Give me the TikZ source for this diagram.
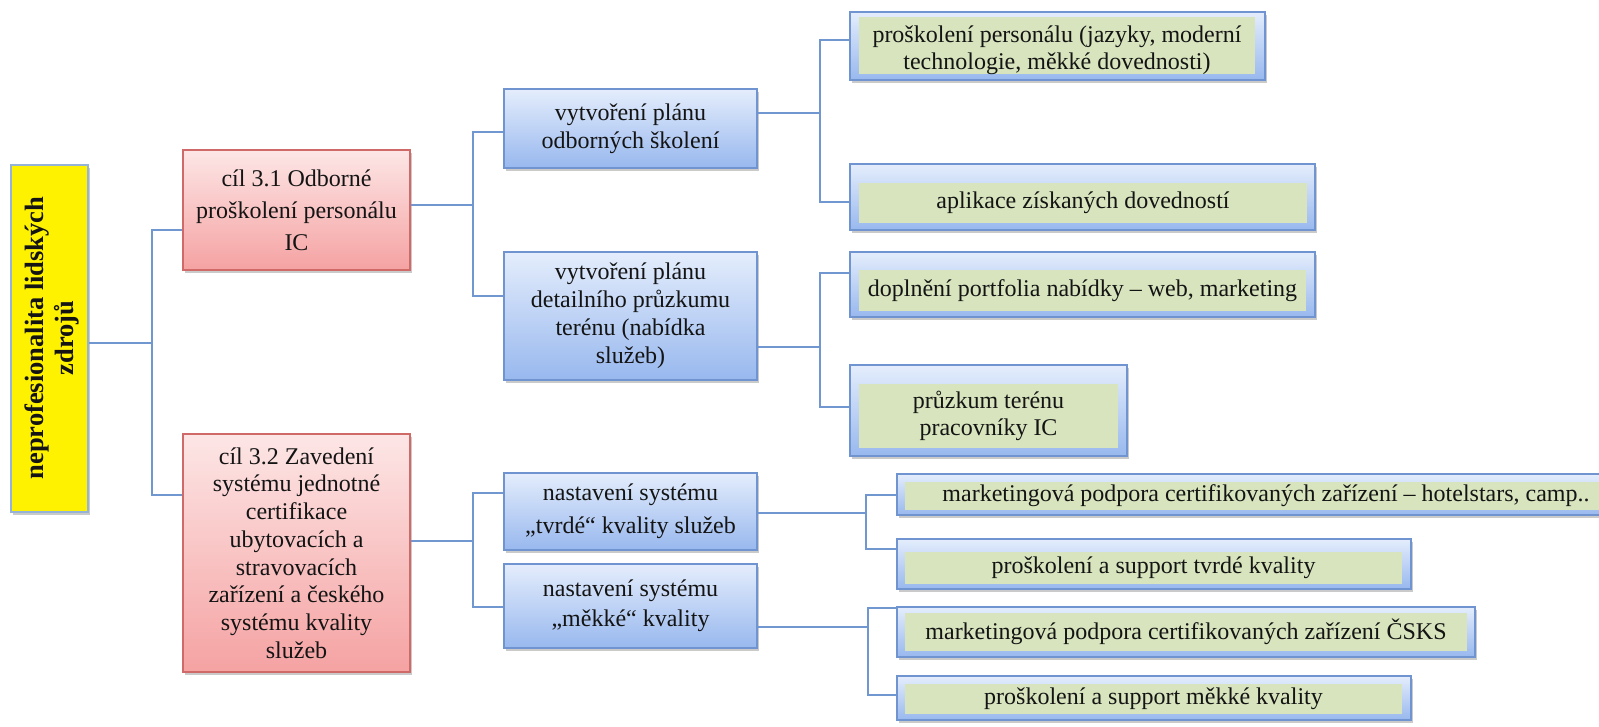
\documentclass[tikz,border=0pt]{standalone}
\usepackage{fontspec}
\setmainfont{Liberation Serif}
\usetikzlibrary{shadows}
\definecolor{linec}{HTML}{7097D0}
\definecolor{redT}{HTML}{FDE6E6}
\definecolor{redB}{HTML}{F5A2A2}
\definecolor{redb}{HTML}{D06A68}
\definecolor{blueT}{HTML}{E4EDFC}
\definecolor{blueB}{HTML}{98B8EE}
\definecolor{blueb}{HTML}{6F94D0}
\definecolor{greenc}{HTML}{D7E4BD}
\definecolor{yelb}{HTML}{95B3D7}
\definecolor{txtc}{HTML}{141414}
\tikzset{
  conn/.style={draw=linec, line width=1.4pt},
  shad/.style={drop shadow={shadow xshift=2pt, shadow yshift=-3pt, opacity=0.35, fill=black!60}},
  redbox/.style={draw=redb, line width=1.2pt, top color=redT, bottom color=redB, shad, inner sep=0pt,
    align=center, text=txtc, font=\fontsize{24}{27}\selectfont},
  bluebox/.style={draw=blueb, line width=1.2pt, top color=blueT, bottom color=blueB, shad, inner sep=0pt,
    align=center, text=txtc, font=\fontsize{24}{28}\selectfont},
  frame/.style={draw=blueb, line width=1.2pt, top color=blueT, bottom color=blueB, shad, inner sep=0pt},
  greenin/.style={fill=greenc, inner sep=0pt, align=center, text=txtc, font=\fontsize{24}{27}\selectfont},
  gtext/.style={inner sep=0pt, align=center, text=txtc, font=\fontsize{24}{27}\selectfont},
  yelbox/.style={draw=yelb, line width=1.2pt, fill=yellow, shad, inner sep=0pt},
}
\begin{document}
\begin{tikzpicture}[x=1pt,y=-1pt]
\useasboundingbox (0,0) rectangle (1599,726);
\clip (0,0) rectangle (1599,726);

% yellow root
\node[yelbox, minimum width=77pt, minimum height=347pt] (Y) at (49.5,338.5) {};
\node[rotate=90, align=center, text=txtc, font=\fontsize{26.5}{30}\selectfont\bfseries] (Yt) at (52,338)
  {neprofesionalita lidských\\zdrojů};

% red goals
\node[redbox, minimum width=227pt, minimum height=120pt, font=\fontsize{24}{32}\selectfont] (R1) at (296.5,210)
  {cíl 3.1 Odborné\\proškolení personálu\\IC};
\node[redbox, minimum width=227pt, minimum height=238pt, font=\fontsize{24}{27.7}\selectfont] (R2) at (296.5,553)
  {cíl 3.2 Zavedení\\systému jednotné\\certifikace\\ubytovacích a\\stravovacích\\zařízení a českého\\systému kvality\\služeb};

% blue activities
\node[bluebox, minimum width=253pt, minimum height=79pt] (B1) at (630.5,128.5)
  {vytvoření plánu\\odborných školení};
\node[bluebox, minimum width=253pt, minimum height=128pt] (B2) at (630.5,316)
  {vytvoření plánu\\detailního průzkumu\\terénu (nabídka\\služeb)};
\node[bluebox, minimum width=253pt, minimum height=77pt, font=\fontsize{24}{33}\selectfont] (B3) at (630.5,511.5)
  {nastavení systému\\„tvrdé“ kvality služeb};
\node[bluebox, minimum width=253pt, minimum height=84pt, font=\fontsize{24}{30}\selectfont] (B4) at (630.5,606)
  {nastavení systému\\„měkké“ kvality};

% green tasks (frame + inner)
\node[frame, minimum width=415pt, minimum height=68pt] (G1) at (1057.5,46) {};
\node[greenin, minimum width=396pt, minimum height=57pt] (G1f) at (1057,45.5) {};
\node[gtext] (G1t) at (1057,50)
  {proškolení personálu (jazyky, moderní\\technologie, měkké dovednosti)};
\node[frame, minimum width=465pt, minimum height=66pt] (G2) at (1082.5,197) {};
\node[greenin, minimum width=448pt, minimum height=40pt] (G2t) at (1083,203)
  {aplikace získaných dovedností};
\node[frame, minimum width=465pt, minimum height=65pt] (G3) at (1082.5,284.5) {};
\node[greenin, minimum width=447pt, minimum height=41pt] (G3t) at (1082.5,290.5)
  {doplnění portfolia nabídky – web, marketing};
\node[frame, minimum width=277pt, minimum height=91pt] (G4) at (988.5,410.5) {};
\node[greenin, minimum width=259pt, minimum height=64pt] (G4t) at (988.5,416)
  {průzkum terénu\\pracovníky IC};
\node[frame, minimum width=715pt, minimum height=41pt] (G5) at (1254.5,494.5) {};
\node[greenin, minimum width=699pt, minimum height=28pt] (G5t) at (1254.5,496)
  {\hspace*{23pt}marketingová podpora certifikovaných zařízení – hotelstars, camp..};
\node[frame, minimum width=514pt, minimum height=50pt] (G6) at (1154,564) {};
\node[greenin, minimum width=497pt, minimum height=32pt] (G6t) at (1153.5,568)
  {proškolení a support tvrdé kvality};
\node[frame, minimum width=578pt, minimum height=50pt] (G7) at (1186,632) {};
\node[greenin, minimum width=562pt, minimum height=38pt] (G7t) at (1186,632)
  {marketingová podpora certifikovaných zařízení ČSKS};
\node[frame, minimum width=514pt, minimum height=44pt] (G8) at (1154,698) {};
\node[greenin, minimum width=497pt, minimum height=30pt] (G8t) at (1153.5,699)
  {proškolení a support měkké kvality};

% junctions
\coordinate (j0) at (152,343);
\coordinate (j1) at (473,205);
\coordinate (j2) at (820,113);
\coordinate (j3) at (820,347);
\coordinate (j4) at (473,541);
\coordinate (j5) at (866,513);
\coordinate (j6) at (868,627);

% connectors
\draw[conn] (Y.east |- j0) -- (j0);
\draw[conn] (R1.west |- 0,230) -| (j0) |- (R2.west |- 0,495);
\draw[conn] (R1.east |- j1) -- (j1);
\draw[conn] (B1.west |- 0,132) -| (j1) |- (B2.west |- 0,296);
\draw[conn] (B1.east |- j2) -- (j2);
\draw[conn] (G1.west |- 0,40) -| (j2) |- (G2.west |- 0,202);
\draw[conn] (B2.east |- j3) -- (j3);
\draw[conn] (G3.west |- 0,273) -| (j3) |- (G4.west |- 0,407);
\draw[conn] (R2.east |- j4) -- (j4);
\draw[conn] (B3.west |- 0,493) -| (j4) |- (B4.west |- 0,607);
\draw[conn] (B3.east |- j5) -- (j5);
\draw[conn] (G5.west |- 0,495) -| (j5) |- (G6.west |- 0,549);
\draw[conn] (B4.east |- j6) -- (j6);
\draw[conn] (G7.west |- 0,608) -| (j6) |- (G8.west |- 0,695);
\end{tikzpicture}
\end{document}
